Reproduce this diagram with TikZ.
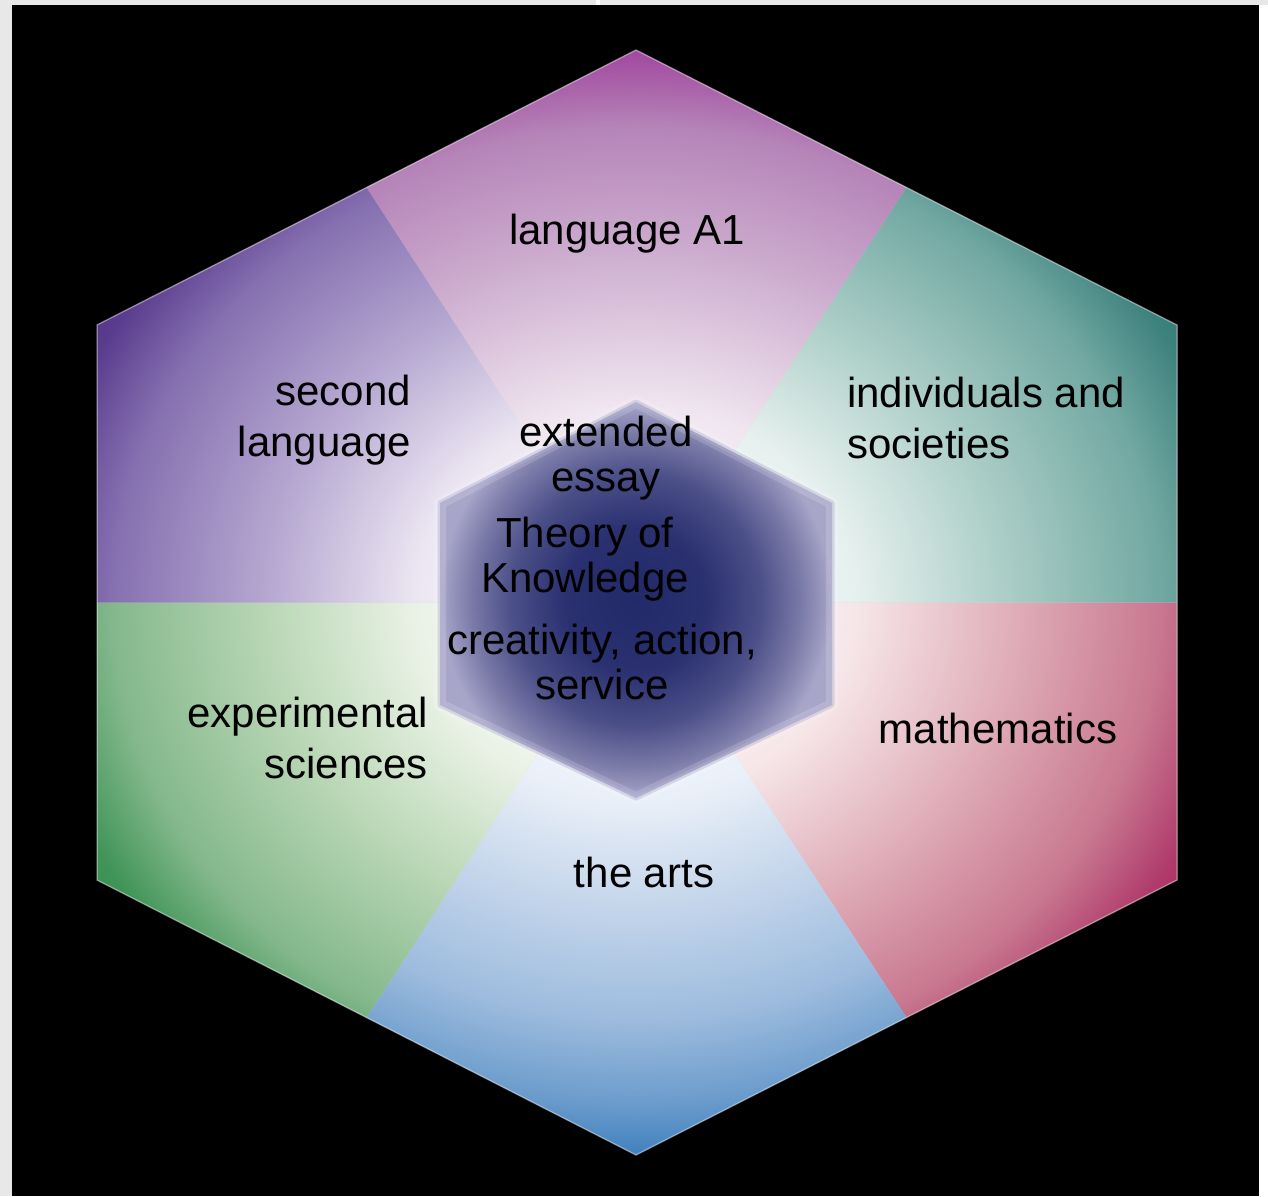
\documentclass[tikz,border=0pt]{standalone}
\usepackage{fontspec}
\setmainfont{Liberation Sans}
\definecolor{bggray}{HTML}{E8E8E8}
\definecolor{basefill}{HTML}{DCD4E2}
% top sector (language A1)
\definecolor{tA}{HTML}{F0E6F0}\definecolor{tB}{HTML}{CAA8CC}\definecolor{tC}{HTML}{B584B8}\definecolor{tD}{HTML}{A24A9F}\definecolor{tE}{HTML}{983C96}
% upper left (second language)
\definecolor{uA}{HTML}{ECE6F2}\definecolor{uB}{HTML}{B4A6D0}\definecolor{uC}{HTML}{8670B0}\definecolor{uD}{HTML}{5A3C8E}\definecolor{uE}{HTML}{4A2A84}
% upper right (individuals and societies)
\definecolor{rA}{HTML}{E6F0EE}\definecolor{rB}{HTML}{AACDC6}\definecolor{rC}{HTML}{72A8A2}\definecolor{rD}{HTML}{3E827E}\definecolor{rE}{HTML}{2C6E6C}
% lower right (mathematics)
\definecolor{mA}{HTML}{F6E6E8}\definecolor{mB}{HTML}{DEAAB6}\definecolor{mC}{HTML}{C87890}\definecolor{mD}{HTML}{B03C6C}\definecolor{mE}{HTML}{A01458}
% bottom (the arts)
\definecolor{bA}{HTML}{EAF0F8}\definecolor{bB}{HTML}{C8D8EC}\definecolor{bC}{HTML}{9EBCDE}\definecolor{bD}{HTML}{6C9CCC}\definecolor{bE}{HTML}{3A7CBC}\definecolor{bF}{HTML}{306EB0}
% lower left (experimental sciences)
\definecolor{gA}{HTML}{EAF2E6}\definecolor{gB}{HTML}{B8D6B4}\definecolor{gC}{HTML}{84B88C}\definecolor{gD}{HTML}{409458}\definecolor{gE}{HTML}{2A8444}
% core
\definecolor{cA}{HTML}{222A6A}\definecolor{cB}{HTML}{2A3070}\definecolor{cC}{HTML}{4C5088}\definecolor{cD}{HTML}{7A7AA8}\definecolor{cE}{HTML}{9C9AC0}\definecolor{cF}{HTML}{A8A6C8}
\definecolor{rim}{HTML}{B4B2D2}

% the middle 50bp square of a shading is fitted to the path's bounding box, so 25bp = edge of the shaded ellipse
\pgfdeclareradialshading{shTop}{\pgfpoint{0bp}{0bp}}{color(0bp)=(white); color(8bp)=(tA); color(15bp)=(tB); color(19.5bp)=(tC); color(22.5bp)=(tD); color(25bp)=(tE); color(50bp)=(tE)}
\pgfdeclareradialshading{shUL}{\pgfpoint{0bp}{0bp}}{color(0bp)=(white); color(8bp)=(uA); color(13.5bp)=(uB); color(19bp)=(uC); color(22bp)=(uD); color(25bp)=(uE); color(50bp)=(uE)}
\pgfdeclareradialshading{shUR}{\pgfpoint{0bp}{0bp}}{color(0bp)=(white); color(8bp)=(rA); color(13.5bp)=(rB); color(19bp)=(rC); color(22bp)=(rD); color(25bp)=(rE); color(50bp)=(rE)}
\pgfdeclareradialshading{shLR}{\pgfpoint{0bp}{0bp}}{color(0bp)=(white); color(8bp)=(mA); color(14bp)=(mB); color(19bp)=(mC); color(22bp)=(mD); color(25bp)=(mE); color(50bp)=(mE)}
\pgfdeclareradialshading{shBot}{\pgfpoint{0bp}{0bp}}{color(0bp)=(white); color(8bp)=(bA); color(12bp)=(bB); color(17bp)=(bC); color(20.5bp)=(bD); color(23bp)=(bE); color(25bp)=(bF); color(50bp)=(bF)}
\pgfdeclareradialshading{shLL}{\pgfpoint{0bp}{0bp}}{color(0bp)=(white); color(8bp)=(gA); color(13.5bp)=(gB); color(19bp)=(gC); color(22bp)=(gD); color(25bp)=(gE); color(50bp)=(gE)}
\pgfdeclareradialshading{shCore}{\pgfpoint{0bp}{0bp}}{color(0bp)=(cA); color(9bp)=(cB); color(16bp)=(cC); color(21bp)=(cD); color(24bp)=(cE); color(25bp)=(cF); color(50bp)=(cF)}

\tikzset{
  lbl/.style={font=\fontsize{42}{51}\selectfont, inner sep=0pt, text=black},
  core/.style={font=\fontsize{42}{45}\selectfont, inner sep=0pt, text=black, align=center},
}

\begin{document}
\begin{tikzpicture}[x=1pt,y=-1pt]
\useasboundingbox (0,0) rectangle (1268,1196);
% page background
\fill[bggray] (0,0) rectangle (1268,1196);
\fill[white] (1259,5) rectangle (1268,1196);
\fill[black] (12,5) rectangle (1259,1196);
\fill[white] (596,0) rectangle (600,5);

% outer hexagon points
\coordinate (C) at (636,602.5);
\coordinate (T) at (636,50);
\coordinate (UR) at (1177,325);
\coordinate (LR) at (1177,880);
\coordinate (B) at (636,1155);
\coordinate (LL) at (97,880);
\coordinate (UL) at (97,325);
\coordinate (mTR) at (906.5,187.5);
\coordinate (mR) at (1177,602.5);
\coordinate (mBR) at (906.5,1017.5);
\coordinate (mBL) at (366.5,1017.5);
\coordinate (mL) at (97,602.5);
\coordinate (mUL) at (366.5,187.5);

\fill[basefill] (T) -- (UR) -- (LR) -- (B) -- (LL) -- (UL) -- cycle;

\begin{scope}
  \clip (C) -- (mUL) -- (T) -- (mTR) -- cycle;
  \shade[shading=shTop] (C) ellipse [x radius=690pt, y radius=610pt];
\end{scope}
\begin{scope}
  \clip (C) -- (mTR) -- (UR) -- (mR) -- cycle;
  \shade[shading=shUR] (C) ellipse [x radius=690pt, y radius=610pt];
\end{scope}
\begin{scope}
  \clip (C) -- (mR) -- (LR) -- (mBR) -- cycle;
  \shade[shading=shLR] (C) ellipse [x radius=690pt, y radius=610pt];
\end{scope}
\begin{scope}
  \clip (C) -- (mBR) -- (B) -- (mBL) -- cycle;
  \shade[shading=shBot] (C) ellipse [x radius=690pt, y radius=610pt];
\end{scope}
\begin{scope}
  \clip (C) -- (mBL) -- (LL) -- (mL) -- cycle;
  \shade[shading=shLL] (C) ellipse [x radius=690pt, y radius=610pt];
\end{scope}
\begin{scope}
  \clip (C) -- (mL) -- (UL) -- (mUL) -- cycle;
  \shade[shading=shUL] (C) ellipse [x radius=690pt, y radius=610pt];
\end{scope}

% light rim of outer hexagon
\draw[white, opacity=0.35, line width=1.5pt, line join=miter] (T) -- (UR) -- (LR) -- (B) -- (LL) -- (UL) -- cycle;

% inner hexagon
\coordinate (iT) at (636,402);
\coordinate (iUR) at (832,503);
\coordinate (iLR) at (832,705);
\coordinate (iB) at (636,798);
\coordinate (iLL) at (440,705);
\coordinate (iUL) at (440,503);
\shade[shading=shCore] (iT) -- (iUR) -- (iLR) -- (iB) -- (iLL) -- (iUL) -- cycle;
\draw[white, opacity=0.15, line width=12pt, line join=round] (iT) -- (iUR) -- (iLR) -- (iB) -- (iLL) -- (iUL) -- cycle;
\draw[rim, opacity=0.45, line width=5pt, line join=round] (iT) -- (iUR) -- (iLR) -- (iB) -- (iLL) -- (iUL) -- cycle;

% labels
\node[lbl] (a1) at (627,234) {language A1};
\node[lbl, align=right, anchor=east] (sl) at (411,420) {second\\language};
\node[lbl, align=left, anchor=west] (is) at (847,418) {individuals and\\societies};
\node[lbl, align=right, anchor=east] (es) at (428,738) {experimental\\sciences};
\node[lbl] (ma) at (998,728) {mathematics};
\node[lbl] (ar) at (644,872) {the arts};
\node[core] (ee) at (606,458) {extended\\essay};
\node[core] (tk) at (585,559) {Theory of\\Knowledge};
\node[core] (cas) at (602,662) {creativity, action,\\service};
\end{tikzpicture}
\end{document}
